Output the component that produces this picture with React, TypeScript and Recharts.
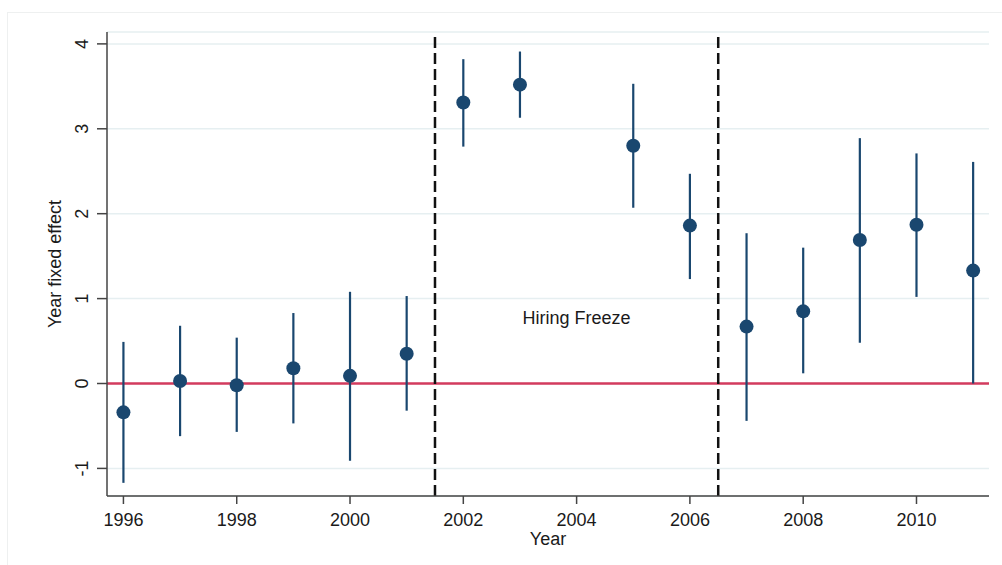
import {
  ComposedChart,
  Scatter,
  ErrorBar,
  XAxis,
  YAxis,
  CartesianGrid,
  ReferenceLine,
  ReferenceDot,
} from 'recharts';

// Year fixed effects with 95% confidence intervals
const years = [1996, 1997, 1998, 1999, 2000, 2001, 2002, 2003, 2005, 2006, 2007, 2008, 2009, 2010, 2011];
const estimates = [-0.34, 0.03, -0.02, 0.18, 0.09, 0.35, 3.31, 3.52, 2.8, 1.86, 0.67, 0.85, 1.69, 1.87, 1.33];
const ciLow = [-1.17, -0.62, -0.57, -0.47, -0.91, -0.32, 2.79, 3.13, 2.07, 1.23, -0.44, 0.12, 0.48, 1.02, 0.0];
const ciHigh = [0.49, 0.68, 0.54, 0.83, 1.08, 1.03, 3.82, 3.91, 3.53, 2.47, 1.77, 1.6, 2.89, 2.71, 2.61];

const xTicks = [1996, 1998, 2000, 2002, 2004, 2006, 2008, 2010];
const yTicks = [-1, 0, 1, 2, 3, 4];
const freezeStart = 2001.5;
const freezeEnd = 2006.5;

const data = years.map((year, i) => ({
  year,
  effect: estimates[i],
  ci: [estimates[i] - ciLow[i], ciHigh[i] - estimates[i]],
}));

const FONT = '"Liberation Sans", Arial, sans-serif';
const NAVY = '#1a476f';
const AXIS = '#444';

const XTick = (props: any) => {
  const { x, y, payload } = props;
  return (
    <text x={x} y={y + 13.5} textAnchor="middle" dominantBaseline="central" fontSize={18} fontFamily={FONT} fill="#1a1a1a">
      {payload.value}
    </text>
  );
};

const YTick = (props: any) => {
  const { x, y, payload } = props;
  const tx = x - 13;
  return (
    <text
      x={tx}
      y={y}
      transform={`rotate(-90, ${tx}, ${y})`}
      textAnchor="middle"
      dominantBaseline="central"
      fontSize={18}
      fontFamily={FONT}
      fill="#1a1a1a"
    >
      {payload.value}
    </text>
  );
};

const Dot = (props: any) => <circle cx={props.cx} cy={props.cy} r={7} fill={NAVY} />;

export default function App() {
  return (
    <div style={{ position: 'absolute', left: 0, top: 0, width: 1002, height: 565, background: '#fff', overflow: 'hidden' }}>
      <div style={{ position: 'absolute', left: 7, top: 12, width: 1010, height: 570, border: '1px solid #eef0f0' }} />
      <ComposedChart
        width={1002}
        height={565}
        data={data}
        margin={{ top: 32, right: 13, left: 0, bottom: 0 }}
        style={{ position: 'absolute', left: 0, top: 0 }}
      >
        <CartesianGrid vertical={false} stroke="#e6eff1" strokeWidth={1.5} />
        <XAxis
          type="number"
          dataKey="year"
          domain={[1995.71, 2011.28]}
          allowDataOverflow
          ticks={xTicks}
          tick={<XTick />}
          tickSize={8}
          tickMargin={2}
          height={69}
          axisLine={{ stroke: AXIS, strokeWidth: 1.5 }}
          tickLine={{ stroke: AXIS, strokeWidth: 1.5 }}
          label={{ value: 'Year', position: 'insideBottom', offset: 20, fontSize: 18, fontFamily: FONT, fill: '#1a1a1a' }}
        />
        <YAxis
          type="number"
          domain={[-1.325, 4.14]}
          allowDataOverflow
          ticks={yTicks}
          tick={<YTick />}
          tickSize={10}
          tickMargin={2}
          width={107}
          axisLine={{ stroke: AXIS, strokeWidth: 1.5 }}
          tickLine={{ stroke: AXIS, strokeWidth: 1.5 }}
          label={{ value: 'Year fixed effect', angle: -90, position: 'center', dx: 1, fontSize: 18, fontFamily: FONT, fill: '#1a1a1a' }}
        />
        <ReferenceLine y={0} stroke="#d33b5e" strokeWidth={2.5} />
        <ReferenceLine x={freezeStart} stroke="#111" strokeWidth={2.5} strokeDasharray="11 5" />
        <ReferenceLine x={freezeEnd} stroke="#111" strokeWidth={2.5} strokeDasharray="11 5" />
        <ReferenceDot
          x={2004}
          y={0.78}
          r={0}
          fill="none"
          stroke="none"
          label={{ value: 'Hiring Freeze', position: 'center', fontSize: 18, fontFamily: FONT, fill: '#1a1a1a' }}
        />
        <Scatter dataKey="effect" fill={NAVY} shape={<Dot />} isAnimationActive={false}>
          <ErrorBar dataKey="ci" direction="y" width={0} stroke={NAVY} strokeWidth={2.2} isAnimationActive={false} />
        </Scatter>
      </ComposedChart>
    </div>
  );
}
